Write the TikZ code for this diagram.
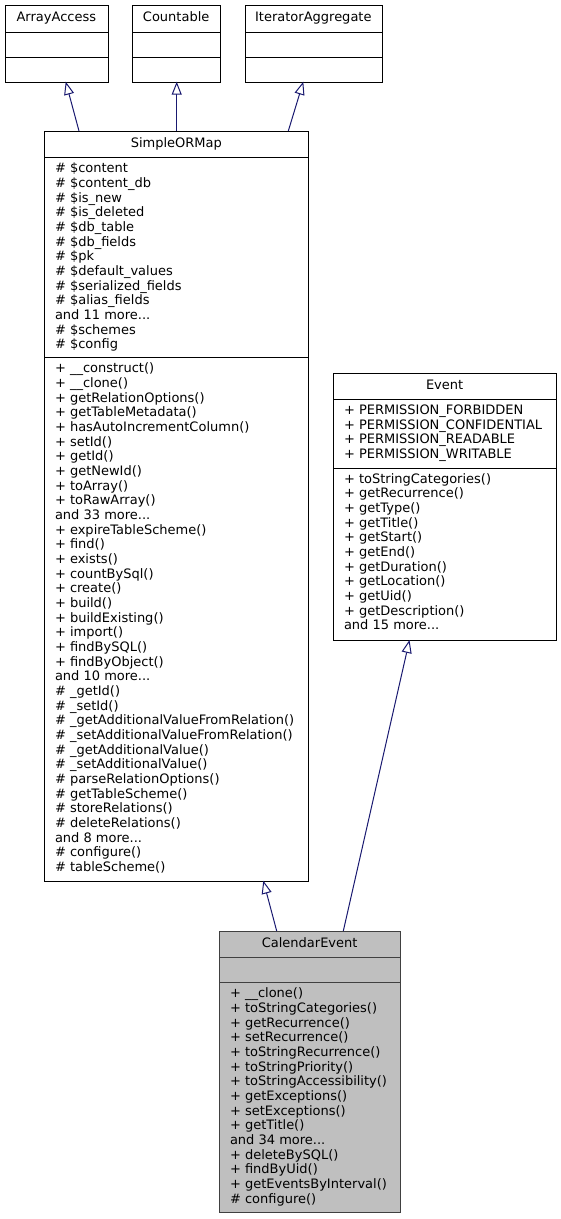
\documentclass[tikz,border=0pt]{standalone}
\usepackage{fontspec}
\setmainfont{DejaVu Sans}
\usetikzlibrary{arrows.meta}
\definecolor{edgeblue}{HTML}{191970}
\definecolor{calfill}{HTML}{BFBFBF}
\definecolor{calborder}{HTML}{404040}
\newcommand\threedots{...}
\newcommand\umlmembers[4]{%
  \foreach \t [count=\i] in {#4} {%
    \node[mem] (#1\i) at (#2,{#3+14.67*(\i-1)}) {\t};}}
\begin{document}
\begin{tikzpicture}[x=1pt,y=-1pt,
  every node/.style={font=\fontsize{13}{14.67}\selectfont},
  comp/.style={draw=black,line width=1pt,inner sep=0pt,anchor=north west,fill=white},
  calcomp/.style={comp,draw=calborder,fill=calfill},
  mem/.style={anchor=base west,inner sep=0pt},
  ttl/.style={anchor=base,inner sep=0pt},
  inh/.style={draw=edgeblue,line width=1pt,-{Triangle[length=13pt,width=10pt,fill=white]}}]
\useasboundingbox (0,0) rectangle (561,1219);
% ArrayAccess
\node[comp,minimum width=102.7pt,minimum height=26.7pt] (aat) at (5,5) {};
\node[comp,minimum width=102.7pt,minimum height=25pt] (aaa) at (5,31.7) {};
\node[comp,minimum width=102.7pt,minimum height=25pt] (aam) at (5,56.7) {};
\node[ttl] (aan) at (56.35,21.7) {ArrayAccess};
% Countable
\node[comp,minimum width=87.7pt,minimum height=26.7pt] (ctt) at (132.3,5) {};
\node[comp,minimum width=87.7pt,minimum height=25pt] (cta) at (132.3,31.7) {};
\node[comp,minimum width=87.7pt,minimum height=25pt] (ctm) at (132.3,56.7) {};
\node[ttl] (ctn) at (176.15,21.7) {Countable};
% IteratorAggregate
\node[comp,minimum width=136.7pt,minimum height=26.7pt] (iat) at (245,5) {};
\node[comp,minimum width=136.7pt,minimum height=25pt] (iaa) at (245,31.7) {};
\node[comp,minimum width=136.7pt,minimum height=25pt] (iam) at (245,56.7) {};
\node[ttl] (ian) at (313.35,21.7) {IteratorAggregate};
% SimpleORMap
\node[comp,minimum width=264pt,minimum height=26.3pt] (smt) at (44.3,131) {};
\node[comp,minimum width=264pt,minimum height=200pt] (sma) at (44.3,157.3) {};
\node[comp,minimum width=264pt,minimum height=523.4pt] (smm) at (44.3,357.3) {};
\node[ttl] (smn) at (176.3,147) {SimpleORMap};
\umlmembers{smat}{54.8}{172.7}{\# \$content,\# \$content\_db,\# \$is\_new,\# \$is\_deleted,\# \$db\_table,\# \$db\_fields,\# \$pk,\# \$default\_values,\# \$serialized\_fields,\# \$alias\_fields,and 11 more\threedots,\# \$schemes,\# \$config}
\umlmembers{smme}{54.8}{372.7}{+ \_\_construct(),+ \_\_clone(),+ getRelationOptions(),+ getTableMetadata(),+ hasAutoIncrementColumn(),+ setId(),+ getId(),+ getNewId(),+ toArray(),+ toRawArray(),and 33 more\threedots,+ expireTableScheme(),+ find(),+ exists(),+ countBySql(),+ create(),+ build(),+ buildExisting(),+ import(),+ findBySQL(),+ findByObject(),and 10 more\threedots,\# \_getId(),\# \_setId(),\# \_getAdditionalValueFromRelation(),\# \_setAdditionalValueFromRelation(),\# \_getAdditionalValue(),\# \_setAdditionalValue(),\# parseRelationOptions(),\# getTableScheme(),\# storeRelations(),\# deleteRelations(),and 8 more\threedots,\# configure(),\# tableScheme()}
% Event
\node[comp,minimum width=222.7pt,minimum height=25.7pt] (evt) at (333.3,373.3) {};
\node[comp,minimum width=222.7pt,minimum height=68.7pt] (eva) at (333.3,399) {};
\node[comp,minimum width=222.7pt,minimum height=172.3pt] (evm) at (333.3,467.7) {};
\node[ttl] (evn) at (444.65,389) {Event};
\umlmembers{evat}{343.8}{414.4}{+ PERMISSION\_FORBIDDEN,+ PERMISSION\_CONFIDENTIAL,+ PERMISSION\_READABLE,+ PERMISSION\_WRITABLE}
\umlmembers{evme}{343.8}{483.1}{+ toStringCategories(),+ getRecurrence(),+ getType(),+ getTitle(),+ getStart(),+ getEnd(),+ getDuration(),+ getLocation(),+ getUid(),+ getDescription(),and 15 more\threedots}
% CalendarEvent
\node[calcomp,minimum width=180.7pt,minimum height=25.7pt] (cet) at (219.3,931) {};
\node[calcomp,minimum width=180.7pt,minimum height=25.6pt] (cea) at (219.3,956.7) {};
\node[calcomp,minimum width=180.7pt,minimum height=230pt] (cem) at (219.3,982.3) {};
\node[ttl] (cen) at (309.65,947) {CalendarEvent};
\umlmembers{ceme}{229.8}{997.7}{+ \_\_clone(),+ toStringCategories(),+ getRecurrence(),+ setRecurrence(),+ toStringRecurrence(),+ toStringPriority(),+ toStringAccessibility(),+ getExceptions(),+ setExceptions(),+ getTitle(),and 34 more\threedots,+ deleteBySQL(),+ findByUid(),+ getEventsByInterval(),\# configure()}
% connector end points
\coordinate (aain) at (65.7,81.7);
\coordinate (ctin) at (176.7,81.7);
\coordinate (iain) at (303.3,81.7);
\coordinate (smout1) at (79,131);
\coordinate (smout2) at (176.7,131);
\coordinate (smout3) at (288.3,131);
\coordinate (smin) at (263.3,880.7);
\coordinate (evin) at (409.5,640);
\coordinate (ceout1) at (276.7,931);
\coordinate (ceout2) at (343.3,931);
\draw[inh] (smout1) -- (aain);
\draw[inh] (smout2) -- (ctin);
\draw[inh] (smout3) -- (iain);
\draw[inh] (ceout1) -- (smin);
\draw[inh] (ceout2) -- (evin);
\end{tikzpicture}
\end{document}
